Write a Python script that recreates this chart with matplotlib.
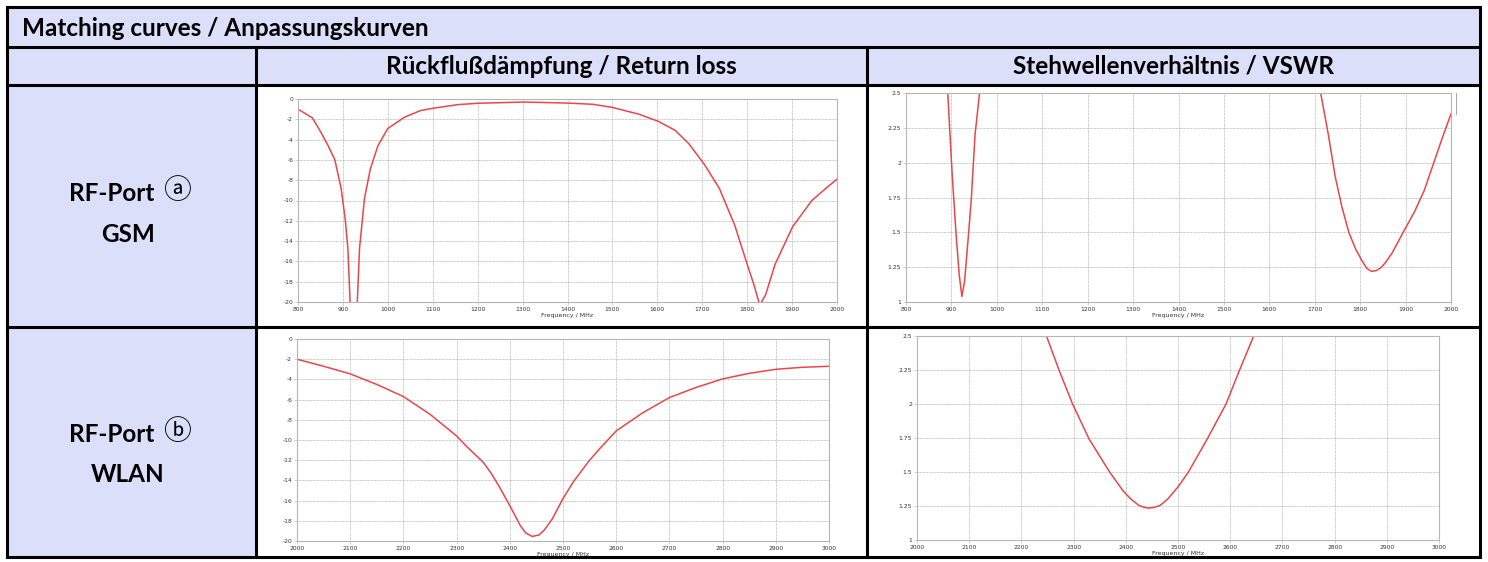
import matplotlib.pyplot as plt
from matplotlib.patches import Rectangle
from matplotlib.lines import Line2D
from matplotlib.ticker import FormatStrFormatter

plt.rcParams['axes.unicode_minus'] = False

# --- data ---
gsm_rl_freq = [800, 832, 850, 867, 882, 896, 905, 911, 916, 924, 932, 937, 948, 961, 978,
               1000, 1037, 1072, 1102, 1157, 1200, 1302, 1400, 1456, 1499, 1559, 1602,
               1640, 1670, 1704, 1738, 1772, 1798, 1815, 1828, 1841, 1862, 1901, 1944,
               1978, 2000]
gsm_rl_db = [-1.0, -1.86, -3.2, -4.6, -6.0, -8.8, -11.8, -14.7, -20.0, -30.0, -20.0, -14.7,
             -9.8, -6.9, -4.6, -2.9, -1.8, -1.15, -0.9, -0.55, -0.42, -0.3, -0.4,
             -0.52, -0.82, -1.5, -2.2, -3.1, -4.4, -6.4, -8.8, -12.4, -16.0, -18.3,
             -20.3, -19.3, -16.3, -12.6, -10.0, -8.7, -7.9]

gsm_vswr_lo_freq = [888, 892, 896, 902, 910, 917, 923, 929, 938, 944, 952, 962, 966]
gsm_vswr_lo = [2.7, 2.5, 2.25, 1.9, 1.5, 1.2, 1.04, 1.15, 1.5, 1.75, 2.2, 2.5, 2.7]
gsm_vswr_hi_freq = [1705, 1713, 1730, 1745, 1760, 1775, 1790, 1805, 1815, 1825, 1835,
                    1845, 1855, 1870, 1898, 1920, 1941, 1960, 1980, 2000]
gsm_vswr_hi = [2.65, 2.5, 2.2, 1.9, 1.68, 1.5, 1.38, 1.29, 1.24, 1.22, 1.225, 1.245,
               1.28, 1.35, 1.52, 1.65, 1.8, 1.98, 2.17, 2.35]

wlan_rl_freq = [2000, 2050, 2100, 2150, 2200, 2250, 2300, 2320, 2350, 2365, 2380, 2400,
                2420, 2430, 2442, 2455, 2465, 2480, 2500, 2520, 2550, 2570, 2600, 2650,
                2700, 2750, 2800, 2850, 2900, 2950, 3000]
wlan_rl_db = [-2.0, -2.7, -3.45, -4.5, -5.7, -7.45, -9.6, -10.7, -12.2, -13.3, -14.6,
              -16.5, -18.5, -19.2, -19.55, -19.4, -18.9, -17.8, -15.8, -14.1, -12.0,
              -10.8, -9.1, -7.3, -5.8, -4.8, -3.95, -3.4, -3.0, -2.8, -2.7]

wlan_vswr_freq = [2240, 2248, 2272, 2298, 2330, 2369, 2395, 2410, 2425, 2435, 2444,
                  2455, 2466, 2480, 2500, 2520, 2557, 2592, 2618, 2645, 2655]
wlan_vswr = [2.62, 2.5, 2.25, 2.0, 1.74, 1.5, 1.36, 1.3, 1.255, 1.24, 1.235, 1.24,
             1.255, 1.3, 1.39, 1.5, 1.75, 2.0, 2.25, 2.5, 2.6]

title = 'Matching curves / Anpassungskurven'
col_titles = ['Rückflußdämpfung / Return loss', 'Stehwellenverhältnis / VSWR']
row_titles = [('RF-Port', 'ⓐ', 'GSM'), ('RF-Port', 'ⓑ', 'WLAN')]

W, H = 1488, 562
fig = plt.figure(figsize=(W / 100, H / 100), dpi=100)
fig.patch.set_facecolor('white')

def fx(px):
    return px / W

def fy(py):
    return 1 - py / H

lav = '#dcdffa'
L, R, T, B = 7, 1480, 7, 557
rows = [47, 85, 327]
cols = [256, 867]

# cell backgrounds
fig.add_artist(Rectangle((fx(L), fy(rows[1])), (R - L) / W, (rows[1] - T) / H,
                         transform=fig.transFigure, color=lav, zorder=0))
fig.add_artist(Rectangle((fx(L), fy(B)), (cols[0] - L) / W, (B - rows[1]) / H,
                         transform=fig.transFigure, color=lav, zorder=0))

def hline(y, x0, x1):
    fig.add_artist(Line2D([fx(x0), fx(x1)], [fy(y), fy(y)], transform=fig.transFigure,
                          color='black', lw=2.2, solid_capstyle='projecting'))

def vline(x, y0, y1):
    fig.add_artist(Line2D([fx(x), fx(x)], [fy(y0), fy(y1)], transform=fig.transFigure,
                          color='black', lw=2.2, solid_capstyle='projecting'))

for y in [T] + rows + [B]:
    hline(y, L, R)
vline(L, T, B)
vline(R, T, B)
for x in cols:
    vline(x, rows[0], B)

fam = ['Lato', 'DejaVu Sans']
fs = 17.5
fig.text(fx(22), fy(28), title, fontsize=fs, fontweight='bold', family=fam,
         ha='left', va='center')
fig.text(fx((cols[0] + cols[1]) / 2), fy(66), col_titles[0], fontsize=fs,
         fontweight='bold', family=fam, ha='center', va='center')
fig.text(fx((cols[1] + R) / 2), fy(66), col_titles[1], fontsize=fs,
         fontweight='bold', family=fam, ha='center', va='center')
for (a, c, b), yc in zip(row_titles, [193, 434]):
    fig.text(fx(154), fy(yc), a, fontsize=fs, fontweight='bold', family=fam,
             ha='right', va='center')
    fig.text(fx(177), fy(yc - 2), c, fontsize=20,
             family=['Noto Sans CJK JP', 'DejaVu Sans'], ha='center', va='center')
    fig.text(fx(128), fy(yc + 41), b, fontsize=fs, fontweight='bold', family=fam,
             ha='center', va='center')


def make_ax(l, t, r, b):
    ax = fig.add_axes([fx(l), fy(b), (r - l) / W, (b - t) / H])
    ax.grid(True, ls=(0, (1, 1)), color='#999999', lw=0.5)
    for s in ax.spines.values():
        s.set_color('#b5b5b5')
        s.set_linewidth(0.8)
    ax.tick_params(labelsize=4.3, length=2, width=0.4, color='#aaaaaa',
                   labelcolor='#333333', pad=1.5)
    ax.set_xlabel('Frequency / MHz', fontsize=4.5, labelpad=1, color='#333333')
    return ax

red = '#e8474a'

ax1 = make_ax(298, 99, 837, 302)
ax1.plot(gsm_rl_freq, gsm_rl_db, color=red, lw=1.1)
ax1.set_xlim(800, 2000)
ax1.set_ylim(-20, 0)
ax1.set_xticks(range(800, 2001, 100))
ax1.set_yticks(range(-20, 1, 2))

ax2 = make_ax(906, 93, 1451, 302)
ax2.plot(gsm_vswr_lo_freq, gsm_vswr_lo, color=red, lw=1.1)
ax2.plot(gsm_vswr_hi_freq, gsm_vswr_hi, color=red, lw=1.1)
ax2.set_xlim(800, 2000)
ax2.set_ylim(1, 2.5)
ax2.set_xticks(range(800, 2001, 100))
ax2.set_yticks([1, 1.25, 1.5, 1.75, 2, 2.25, 2.5])
ax2.yaxis.set_major_formatter(FormatStrFormatter('%g'))
ax2.plot([1.01, 1.01], [0.9, 1.0], transform=ax2.transAxes, color='#999999',
         lw=0.6, clip_on=False)

ax3 = make_ax(297, 339, 829, 541)
ax3.plot(wlan_rl_freq, wlan_rl_db, color=red, lw=1.1)
ax3.set_xlim(2000, 3000)
ax3.set_ylim(-20, 0)
ax3.set_xticks(range(2000, 3001, 100))
ax3.set_yticks(range(-20, 1, 2))

ax4 = make_ax(917, 336, 1439, 540)
ax4.plot(wlan_vswr_freq, wlan_vswr, color=red, lw=1.1)
ax4.set_xlim(2000, 3000)
ax4.set_ylim(1, 2.5)
ax4.set_xticks(range(2000, 3001, 100))
ax4.set_yticks([1, 1.25, 1.5, 1.75, 2, 2.25, 2.5])
ax4.yaxis.set_major_formatter(FormatStrFormatter('%g'))

fig.savefig('out.png', dpi=100)
